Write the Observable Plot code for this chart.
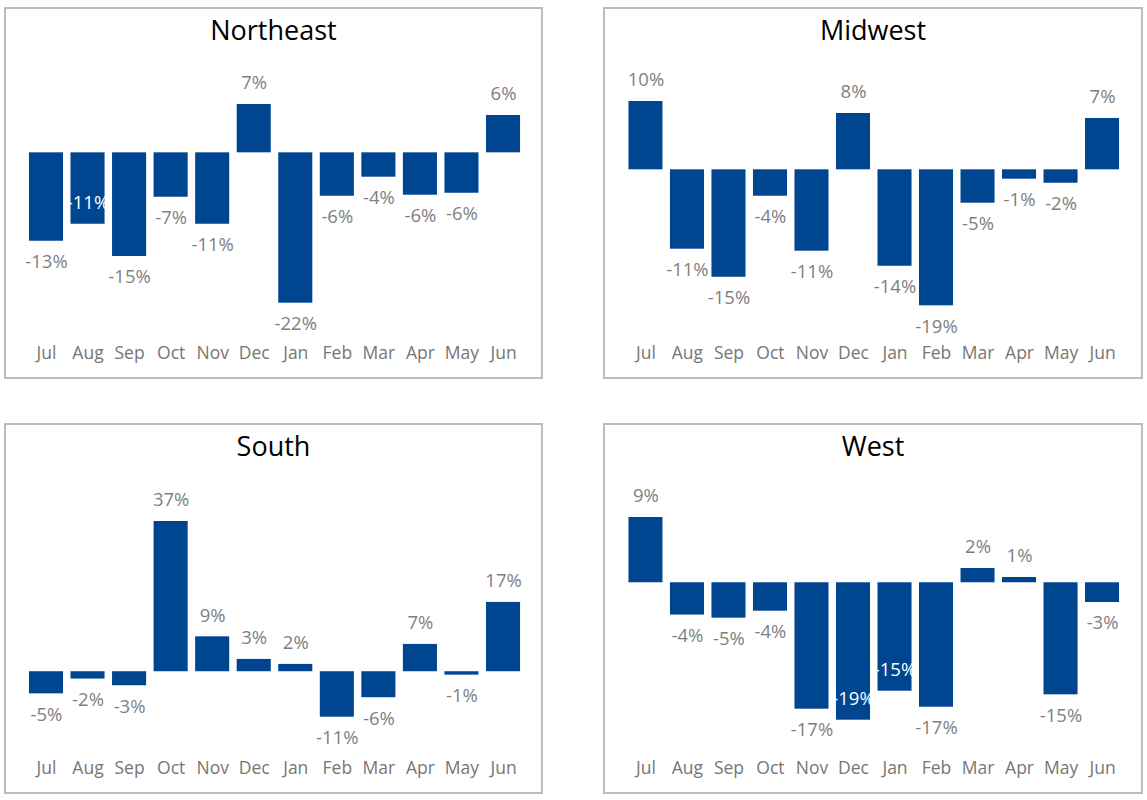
<!DOCTYPE html>
<html>
<head>
<meta charset="utf-8">
<script src="https://cdn.jsdelivr.net/npm/d3@7"></script>
<script src="https://cdn.jsdelivr.net/npm/@observablehq/plot@0.6"></script>
<style>
  html, body { margin: 0; padding: 0; background: #ffffff; }
  #root { position: relative; width: 1147px; height: 800px; font-family: "Open Sans", "Noto Sans", sans-serif; }
  .panel { position: absolute; box-sizing: border-box; border: 2px solid #bcbcbc; background: #fff; }
  .panel svg { position: absolute; left: 0; top: 0; }
  .ptitle { position: absolute; left: 0; right: 0; top: -1px; line-height: 44px; text-align: center; font-size: 27px; color: #000; z-index: 2; }
</style>
</head>
<body>
<div id="root"></div>
<script>
// ---- data ----
const months = ["Jul", "Aug", "Sep", "Oct", "Nov", "Dec", "Jan", "Feb", "Mar", "Apr", "May", "Jun"];
const regions = ["Northeast", "Midwest", "South", "West"];
const northeast = [-13.1, -10.58, -15.36, -6.58, -10.58, 7.16, -22.28, -6.43, -3.61, -6.28, -5.99, 5.53];
const midwest   = [9.62, -11.18, -15.13, -3.72, -11.46, 7.93, -13.58, -19.15, -4.70, -1.32, -1.89, 7.23];
const south     = [-5.45, -1.8, -3.45, 37.0, 8.6, 3.03, 1.8, -11.2, -6.4, 6.72, -0.84, 17.07];
const west      = [9.0, -4.45, -4.88, -3.92, -17.43, -18.95, -14.95, -17.16, 1.97, 0.73, -15.45, -2.72];
// labels drawn inside the bar end (white), as in the original
const insideLabels = [["Northeast", "Aug"], ["West", "Dec"], ["West", "Jan"]];

const seriesByRegion = { Northeast: northeast, Midwest: midwest, South: south, West: west };

// ---- layout (page geometry of the framed panels) ----
const layout = {
  Northeast: { left: 4,   top: 7,   w: 539, h: 372, mt: 95, mb: 74.3, ml: 19.2, mr: 17.2 },
  Midwest:   { left: 603, top: 7,   w: 540, h: 372, mt: 92, mb: 71.7, ml: 19.7, mr: 18.2 },
  South:     { left: 4,   top: 423, w: 539, h: 371, mt: 96, mb: 75.3, ml: 19.2, mr: 17.2 },
  West:      { left: 603, top: 423, w: 540, h: 371, mt: 92, mb: 72.3, ml: 19.7, mr: 18.2 }
};

const barColor = "#00458f";
const labelColor = "#7f7f7f";
const tickColor = "#767676";
const fmt = d => `${Math.round(d.value)}%`;

const root = document.getElementById("root");

for (const region of regions) {
  const L = layout[region];
  const values = seriesByRegion[region];
  const data = months.map((m, i) => ({ month: m, value: values[i] }));
  const isInside = d => insideLabels.some(([r, m]) => r === region && m === d.month);
  const pos = data.filter(d => d.value >= 0 && !isInside(d));
  const neg = data.filter(d => d.value < 0 && !isInside(d));
  const ins = data.filter(d => isInside(d));
  const innerW = L.w - 4, innerH = L.h - 4;

  const chart = Plot.plot({
    width: innerW,
    height: innerH,
    marginTop: L.mt,
    marginBottom: L.mb,
    marginLeft: L.ml,
    marginRight: L.mr,
    style: { fontFamily: "'Open Sans', 'Noto Sans', sans-serif", background: "transparent", overflow: "visible" },
    x: { type: "band", domain: months, paddingInner: 0.18, paddingOuter: 0.09, round: false, axis: null },
    y: { domain: d3.extent(values), axis: null },
    marks: [
      Plot.barY(data, { x: "month", y1: 0, y2: "value", fill: barColor }),
      Plot.text(pos, { x: "month", y: "value", text: fmt, dy: -21, fill: labelColor, fontSize: 18.5 }),
      Plot.text(neg, { x: "month", y: "value", text: fmt, dy: 21, fill: labelColor, fontSize: 18.5 }),
      Plot.text(ins, { x: "month", y: "value", text: fmt, dy: -21, fill: "#ffffff", fontSize: 18.5 }),
      Plot.text(months, { x: d => d, frameAnchor: "bottom", dy: L.mb - 19, fill: tickColor, fontSize: 17.5 })
    ]
  });

  const panel = document.createElement("div");
  panel.className = "panel";
  panel.style.left = L.left + "px";
  panel.style.top = L.top + "px";
  panel.style.width = L.w + "px";
  panel.style.height = L.h + "px";
  const title = document.createElement("div");
  title.className = "ptitle";
  title.textContent = region;
  panel.appendChild(chart);
  panel.appendChild(title);
  root.appendChild(panel);
}
</script>
</body>
</html>
